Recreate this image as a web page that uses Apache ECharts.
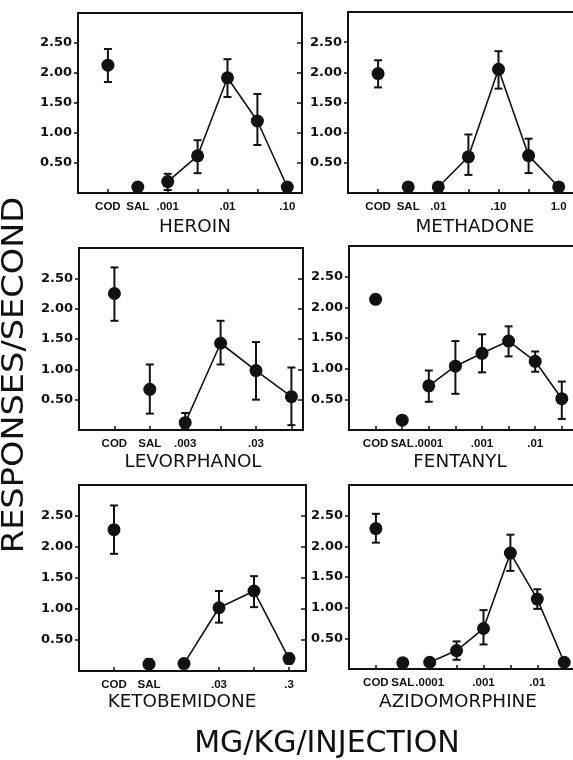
<!DOCTYPE html>
<html>
<head>
<meta charset="utf-8">
<script src="https://cdn.jsdelivr.net/npm/echarts@6/dist/echarts.min.js"></script>
<style>
  html, body { margin: 0; background: #fff; }
  #chart { width: 573px; height: 760px; }
</style>
</head>
<body>
<div id="chart"></div>
<script>
// responses/second (COD, SAL, then doses)
const heroinTicks = ['COD', 'SAL', '.001', '', '.01', '', '.10']
const heroinMean = [2.13, 0.1, 0.19, 0.62, 1.92, 1.2, 0.1]
const heroinLow = [1.85, null, 0.05, 0.33, 1.6, 0.8, null]
const heroinHigh = [2.4, null, 0.32, 0.88, 2.23, 1.65, null]

const methadoneTicks = ['COD', 'SAL', '.01', '', '.10', '', '1.0']
const methadoneMean = [1.98, 0.1, 0.1, 0.6, 2.05, 0.62, 0.1]
const methadoneLow = [1.75, null, null, 0.3, 1.73, 0.33, null]
const methadoneHigh = [2.2, null, null, 0.97, 2.35, 0.9, null]

const levorphanolTicks = ['COD', 'SAL', '.003', '', '.03', '']
const levorphanolMean = [2.25, 0.67, 0.12, 1.43, 0.98, 0.55]
const levorphanolLow = [1.8, 0.27, 0.02, 1.08, 0.5, 0.08]
const levorphanolHigh = [2.68, 1.08, 0.28, 1.8, 1.45, 1.03]

const fentanylTicks = ['COD', 'SAL', '.0001', '', '.001', '', '.01', '']
const fentanylMean = [2.13, 0.16, 0.72, 1.04, 1.25, 1.45, 1.12, 0.51]
const fentanylLow = [null, 0.1, 0.46, 0.59, 0.94, 1.2, 0.95, 0.18]
const fentanylHigh = [null, 0.22, 0.97, 1.45, 1.56, 1.69, 1.28, 0.79]

const ketobemidoneTicks = ['COD', 'SAL', '', '.03', '', '.3']
const ketobemidoneMean = [2.28, 0.11, 0.12, 1.02, 1.29, 0.2]
const ketobemidoneLow = [1.89, 0.05, null, 0.78, 1.03, 0.12]
const ketobemidoneHigh = [2.67, 0.19, null, 1.29, 1.53, 0.28]

const azidomorphineTicks = ['COD', 'SAL', '.0001', '', '.001', '', '.01', '']
const azidomorphineMean = [2.29, 0.1, 0.11, 0.3, 0.66, 1.89, 1.14, 0.11]
const azidomorphineLow = [2.06, null, null, 0.15, 0.4, 1.6, 0.98, null]
const azidomorphineHigh = [2.53, null, null, 0.45, 0.96, 2.19, 1.3, null]

const yTickValues = [0.5, 1, 1.5, 2, 2.5]
const yTicks = ['0.50', '1.00', '1.50', '2.00', '2.50']

// doses from index 2 on are joined by a line
const lineFrom = 2

const panels = [
  { name: 'HEROIN', ticks: heroinTicks, mean: heroinMean, low: heroinLow, high: heroinHigh,
    left: 78, top: 13, width: 224, height: 180, step: 29.9, titleX: 195, titleY: 228 },
  { name: 'METHADONE', ticks: methadoneTicks, mean: methadoneMean, low: methadoneLow, high: methadoneHigh,
    left: 348, top: 12, width: 230, height: 181, step: 30.1, titleX: 475, titleY: 228 },
  { name: 'LEVORPHANOL', ticks: levorphanolTicks, mean: levorphanolMean, low: levorphanolLow, high: levorphanolHigh,
    left: 79, top: 248, width: 224, height: 182, step: 35.4, titleX: 193, titleY: 463 },
  { name: 'FENTANYL', ticks: fentanylTicks, mean: fentanylMean, low: fentanylLow, high: fentanylHigh,
    left: 349, top: 246, width: 230, height: 184, step: 26.6, titleX: 460, titleY: 463 },
  { name: 'KETOBEMIDONE', ticks: ketobemidoneTicks, mean: ketobemidoneMean, low: ketobemidoneLow, high: ketobemidoneHigh,
    left: 79, top: 485, width: 227, height: 186, step: 35, titleX: 182, titleY: 703 },
  { name: 'AZIDOMORPHINE', ticks: azidomorphineTicks, mean: azidomorphineMean, low: azidomorphineLow, high: azidomorphineHigh,
    left: 349, top: 485, width: 230, height: 184, step: 26.9, titleX: 458, titleY: 703 }
]

const ink = '#111'
const grid = []
const xAxis = []
const yAxis = []
const series = []
const graphic = []

panels.forEach((p, k) => {
  const xs = p.ticks.map((t, i) => i)
  grid.push({
    left: p.left, top: p.top, width: p.width, height: p.height,
    show: true, borderColor: ink, borderWidth: 2,
    containLabel: false, outerBoundsMode: 'none'
  })
  xAxis.push({
    gridIndex: k, type: 'value', min: -1, max: -1 + p.width / p.step, interval: 1,
    axisLine: { show: true, onZero: false, lineStyle: { color: ink, width: 2 } },
    axisTick: { show: true, inside: true, length: 4, customValues: xs, lineStyle: { color: ink, width: 1.5 } },
    splitLine: { show: false },
    axisLabel: {
      margin: 8, color: ink, fontFamily: 'Liberation Sans', fontWeight: 'bold', fontSize: 11.5,
      customValues: xs, hideOverlap: false,
      formatter: v => p.ticks[Math.round(v)] || ''
    }
  })
  // left axis with labels, right axis with inward ticks
  yAxis.push({
    gridIndex: k, type: 'value', min: 0, max: 3, interval: 0.5, position: 'left',
    axisLine: { show: true, onZero: false, lineStyle: { color: ink, width: 2 } },
    axisTick: { show: true, length: 4, customValues: yTickValues, lineStyle: { color: ink, width: 1.5 } },
    splitLine: { show: false },
    axisLabel: {
      margin: 6, color: ink, fontFamily: 'DejaVu Sans', fontWeight: 'bold', fontSize: 13,
      customValues: yTickValues,
      formatter: v => yTicks[Math.round(v / 0.5) - 1] || ''
    }
  })
  yAxis.push({
    gridIndex: k, type: 'value', min: 0, max: 3, interval: 0.5, position: 'right',
    axisLine: { show: false, onZero: false },
    axisTick: { show: true, inside: true, length: 5, customValues: yTickValues, lineStyle: { color: ink, width: 1.5 } },
    axisLabel: { show: false },
    splitLine: { show: false }
  })

  const bars = []
  p.mean.forEach((m, i) => {
    if (p.low[i] != null) bars.push([i, p.low[i], p.high[i]])
  })
  series.push({
    type: 'custom', xAxisIndex: k, yAxisIndex: 2 * k, data: bars, z: 3, silent: true,
    renderItem(params, api) {
      const x = api.value(0)
      const a = api.coord([x, api.value(2)])
      const b = api.coord([x, api.value(1)])
      const cap = 4
      const st = { stroke: ink, lineWidth: 2 }
      return {
        type: 'group',
        children: [
          { type: 'line', shape: { x1: a[0], y1: a[1], x2: b[0], y2: b[1] }, style: st },
          { type: 'line', shape: { x1: a[0] - cap, y1: a[1], x2: a[0] + cap, y2: a[1] }, style: st },
          { type: 'line', shape: { x1: b[0] - cap, y1: b[1], x2: b[0] + cap, y2: b[1] }, style: st }
        ]
      }
    }
  })
  series.push({
    type: 'line', xAxisIndex: k, yAxisIndex: 2 * k, z: 2, silent: true,
    data: p.mean.map((m, i) => [i, m]).slice(lineFrom),
    symbol: 'none', lineStyle: { color: ink, width: 1.6 }
  })
  series.push({
    type: 'scatter', xAxisIndex: k, yAxisIndex: 2 * k, z: 4, silent: true,
    data: p.mean.map((m, i) => [i, m]),
    symbol: 'circle', symbolSize: 13, itemStyle: { color: ink, opacity: 1 }
  })

  graphic.push({
    type: 'text', x: p.titleX, y: p.titleY, scaleX: 1.08,
    style: {
      text: p.name, fill: ink, font: '500 17px "DejaVu Sans"',
      textAlign: 'center', textVerticalAlign: 'middle'
    }
  })
})

graphic.push({
  type: 'text', x: 15, y: 375, rotation: Math.PI / 2, scaleX: 1.12,
  style: {
    text: 'RESPONSES/SECOND', fill: ink, font: '30px "DejaVu Sans"',
    textAlign: 'center', textVerticalAlign: 'middle'
  }
})
graphic.push({
  type: 'text', x: 327, y: 744,
  style: {
    text: 'MG/KG/INJECTION', fill: ink, font: '30px "DejaVu Sans"',
    textAlign: 'center', textVerticalAlign: 'middle'
  }
})

const chart = echarts.init(document.getElementById('chart'), null, { renderer: 'canvas' })
chart.setOption({
  animation: false,
  backgroundColor: '#fff',
  grid, xAxis, yAxis, series, graphic
})
</script>
</body>
</html>
